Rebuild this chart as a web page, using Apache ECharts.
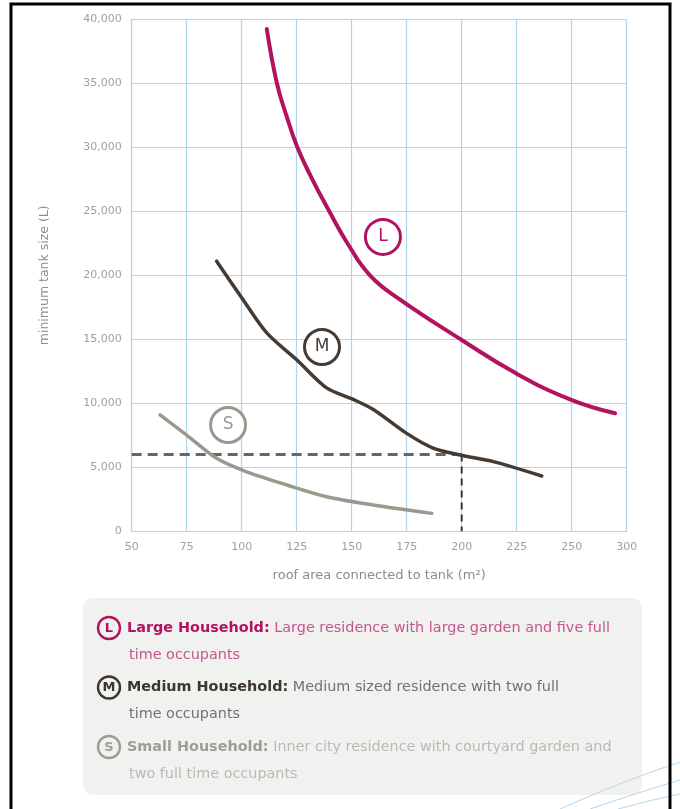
<!DOCTYPE html>
<html>
<head>
<meta charset="utf-8">
<script src="https://cdn.jsdelivr.net/npm/echarts@6/dist/echarts.min.js"></script>
<style>
  html, body { margin: 0; padding: 0; background: #fff; }
  #chart { width: 680px; height: 809px; }
</style>
</head>
<body>
<div id="chart"></div>
<script>
// x positions are in grid steps of 25 starting at 50; the printed scale skips 275
const xTickLabels = ['50', '75', '100', '125', '150', '175', '200', '225', '250', '300'];
const yTickStep = 5000;

// curves: [roof area, tank size]
const largeHousehold = [
  [111.4, 39240], [116, 35000], [120.3, 32500], [125.3, 30000], [131.8, 27600],
  [139.8, 25000], [147.7, 22600], [158.3, 20000], [172, 18100], [200, 14950],
  [224.7, 12340], [249.2, 10310], [269.7, 9220],
];
const mediumHousehold = [
  [88.6, 21100], [100, 18250], [111.4, 15500], [125, 13400], [138.6, 11200],
  [150.7, 10300], [160, 9500], [175, 7650], [187, 6500], [199.3, 5960],
  [214.4, 5440], [236.4, 4320],
];
const smallHousehold = [
  [62.9, 9090], [75, 7520], [88.6, 5700], [102, 4660], [120.5, 3620],
  [138.6, 2700], [159.8, 2060], [186.4, 1400],
];

// worked example: 200 m2 roof -> 6,000 L tank
const exampleArea = 200;
const exampleSize = 6000;

// circled letters on the curves
const curveTags = [
  { name: 'L', pos: [164.2, 23000], color: '#b3135e' },
  { name: 'M', pos: [136.5, 14400], color: '#453b33' },
  { name: 'S', pos: [93.8, 8300], color: '#9d978d' },
];

const legendItems = [
  { tag: 'L', title: 'Large Household:', text: ' Large residence with large garden and five full', more: 'time occupants',
    ring: '#b3135e', titleColor: '#b3135e', textColor: '#c9548e' },
  { tag: 'M', title: 'Medium Household:', text: ' Medium sized residence with two full', more: 'time occupants',
    ring: '#3e352f', titleColor: '#3e352f', textColor: '#737070' },
  { tag: 'S', title: 'Small Household:', text: ' Inner city residence with courtyard garden and', more: 'two full time occupants',
    ring: '#a09b93', titleColor: '#a09b93', textColor: '#bbb9b5' },
];

const fontFamily = '"DejaVu Sans", Verdana, sans-serif';
const gridBlue = '#aed7ee';

const chart = echarts.init(document.getElementById('chart'), null, { renderer: 'canvas' });

// legend panel and decorations
const graphics = [
  {
    type: 'rect', z: -1,
    shape: { x: 83, y: 598, width: 559, height: 197, r: 10 },
    style: { fill: '#f1f1ef' },
  },
];
legendItems.forEach((item, i) => {
  const top = 628 + i * 59.5;
  graphics.push({
    type: 'circle',
    shape: { cx: 109, cy: top, r: 11 },
    style: { fill: 'none', stroke: item.ring, lineWidth: 2.4 },
  });
  graphics.push({
    type: 'text', x: 109, y: top + 0.5,
    style: {
      text: item.tag, fill: item.ring, font: 'bold 13px ' + fontFamily,
      align: 'center', verticalAlign: 'middle',
    },
  });
  graphics.push({
    type: 'text', x: 127, y: top,
    style: {
      text: '{b|' + item.title + '}{n|' + item.text + '}',
      verticalAlign: 'middle',
      rich: {
        b: { fill: item.titleColor, font: 'bold 14.4px ' + fontFamily },
        n: { fill: item.textColor, font: '14.4px ' + fontFamily },
      },
    },
  });
  graphics.push({
    type: 'text', x: 129, y: top + 27,
    style: { text: item.more, fill: item.textColor, font: '14.4px ' + fontFamily, verticalAlign: 'middle' },
  });
});
[[560, 809, 620, 782, 680, 762], [590, 809, 640, 792, 680, 780], [618, 809, 650, 800, 680, 794]].forEach(c => {
  graphics.push({
    type: 'bezierCurve',
    shape: { x1: c[0], y1: c[1], cpx1: c[2], cpy1: c[3], x2: c[4], y2: c[5] },
    style: { stroke: '#b5d6ea', lineWidth: 1, fill: 'none' },
  });
});
graphics.push({
  type: 'rect', z: 100,
  shape: { x: 11, y: 4, width: 659, height: 830 },
  style: { fill: 'none', stroke: '#000', lineWidth: 3 },
});

const option = {
  animation: false,
  backgroundColor: '#fff',
  textStyle: { fontFamily },
  grid: { left: 131.7, right: 53.3, top: 19.3, bottom: 277.7 },
  xAxis: {
    type: 'value', min: 50, max: 275, interval: 25,
    name: 'roof area connected to tank (m²)',
    nameLocation: 'middle', nameGap: 38,
    nameTextStyle: { color: '#8c8c8c', fontSize: 13 },
    axisLine: { show: true, lineStyle: { color: gridBlue, width: 1.2 } },
    axisTick: { show: false },
    axisLabel: {
      color: '#a0a0a0', fontSize: 11, margin: 10,
      formatter: v => xTickLabels[Math.round((v - 50) / 25)],
    },
    splitLine: { show: true, lineStyle: { color: gridBlue, width: 1.2 } },
  },
  yAxis: {
    type: 'value', min: 0, max: 40000, interval: yTickStep,
    name: 'minimum tank size (L)',
    nameLocation: 'middle', nameGap: 80,
    nameTextStyle: { color: '#8c8c8c', fontSize: 12.5 },
    axisLine: { show: true, lineStyle: { color: gridBlue, width: 1.2 } },
    axisTick: { show: false },
    axisLabel: {
      color: '#a0a0a0', fontSize: 11, margin: 10,
      formatter: v => v.toLocaleString('en-US'),
    },
    splitLine: { show: true, lineStyle: { color: gridBlue, width: 1.2 } },
  },
  graphic: graphics,
  series: [
    {
      type: 'line', data: [[50, exampleSize], [exampleArea, exampleSize]],
      symbol: 'none', z: 1,
      lineStyle: { color: '#6b6661', width: 3, type: [10, 6] },
    },
    {
      type: 'line', data: [[exampleArea, exampleSize], [exampleArea, 0]],
      symbol: 'none', z: 1,
      lineStyle: { color: '#3b3a39', width: 2, type: [7, 5] },
    },
    {
      name: 'Small', type: 'line', data: smallHousehold, smooth: 0.3,
      symbol: 'none', z: 3,
      lineStyle: { color: '#9d978d', width: 3.5, cap: 'round' },
    },
    {
      name: 'Medium', type: 'line', data: mediumHousehold, smooth: 0.3,
      symbol: 'none', z: 3,
      lineStyle: { color: '#453b33', width: 3.5, cap: 'round' },
    },
    {
      name: 'Large', type: 'line', data: largeHousehold, smooth: 0.45,
      symbol: 'none', z: 3,
      lineStyle: { color: '#b3135e', width: 4, cap: 'round' },
    },
    {
      type: 'scatter', z: 4,
      data: curveTags.map(t => ({
        value: t.pos, name: t.name,
        itemStyle: { color: '#fff', borderColor: t.color, borderWidth: 3, opacity: 1 },
        label: { color: t.color },
      })),
      symbolSize: 35,
      label: {
        show: true, position: 'inside', formatter: '{b}',
        fontSize: 17, fontFamily,
      },
    },
  ],
};

chart.setOption(option);
</script>
</body>
</html>
